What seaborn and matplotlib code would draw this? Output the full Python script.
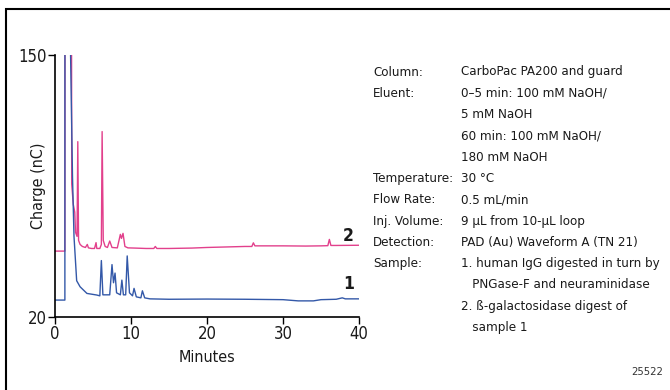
import pandas as pd
import matplotlib.pyplot as plt
import seaborn as sns
from matplotlib.patches import Rectangle

#########################
#         Data          #
#########################

# Trace 1: human IgG digested by PNGase-F and neuraminidase (blue)
time_1 = [0, 1.3, 1.32, 1.95, 2.05, 2.3, 2.5, 2.85, 3.3, 4.2, 5.5, 5.9, 6.1, 6.3, 7.2, 7.5,
          7.7, 7.9, 8.1, 8.6, 8.8, 9.0, 9.3, 9.5, 9.8, 10.2, 10.4, 10.7, 11.3, 11.5, 11.8,
          12.5, 15, 20, 25, 30, 32, 34, 35, 37, 37.8, 38.2, 40]
charge_1 = [28.4, 28.4, 400, 400, 150, 90, 60, 38, 35, 31.7, 30.9, 30.5, 48, 31, 31, 46,
            37, 41.8, 32, 31, 38.3, 31, 31, 50.3, 32, 30.5, 34.2, 30, 29.5, 33, 29.5,
            29, 28.8, 28.9, 28.8, 28.6, 28.0, 28.0, 28.6, 28.8, 29.5, 29, 29]

# Trace 2: beta-galactosidase digest of sample 1 (pink)
time_2 = [0, 1.3, 1.35, 2.1, 2.2, 2.4, 2.6, 2.7, 2.9, 3.0, 3.1, 3.3, 3.6, 4.0, 4.25, 4.4,
          4.8, 5.2, 5.4, 5.5, 5.9, 6.1, 6.2, 6.35, 6.6, 6.9, 7.2, 7.5, 8.2, 8.6, 8.75, 8.95,
          9.2, 9.6, 10.5, 12, 13.0, 13.2, 13.4, 15, 18, 20, 22, 25, 25.9, 26.1, 26.3, 27,
          30, 33, 35, 35.9, 36.1, 36.3, 37, 40]
charge_2 = [52.7, 52.7, 400, 400, 86, 76, 72, 62, 60, 107, 58, 56, 55, 54.5, 56, 54.3,
            54, 54, 56.9, 54, 54, 56, 112, 58, 55, 54.5, 57.7, 54.5, 54.3, 61, 59, 61.5,
            55, 54.3, 54.2, 54, 54, 55, 54, 54, 54.2, 54.5, 54.7, 55, 55, 56.8, 55.3, 55.3,
            55.3, 55.2, 55.3, 55.4, 58.5, 55.5, 55.5, 55.6]

x_ticks = [0, 10, 20, 30, 40]
y_ticks = [20, 150]

conditions = [
    ('Column:', 'CarboPac PA200 and guard'),
    ('Eluent:', '0\u20135 min: 100 mM NaOH/'),
    ('', '5 mM NaOH'),
    ('', '60 min: 100 mM NaOH/'),
    ('', '180 mM NaOH'),
    ('Temperature:', '30 \u00b0C'),
    ('Flow Rate:', '0.5 mL/min'),
    ('Inj. Volume:', '9 \u00b5L from 10-\u00b5L loop'),
    ('Detection:', 'PAD (Au) Waveform A (TN 21)'),
    ('Sample:', '1. human IgG digested in turn by'),
    ('', '   PNGase-F and neuraminidase'),
    ('', '2. \u00df-galactosidase digest of'),
    ('', '   sample 1'),
]

df = pd.concat([
    pd.DataFrame({'Minutes': time_1, 'Charge': charge_1, 'Trace': '1'}),
    pd.DataFrame({'Minutes': time_2, 'Charge': charge_2, 'Trace': '2'}),
])

##########################
#   Plotting the data    #
##########################
sns.set_style('ticks')
plt.rcParams['font.family'] = ['DejaVu Sans']
plt.rcParams['font.stretch'] = 'condensed'
plt.rcParams['text.color'] = '#1a1a1a'
plt.rcParams['axes.labelcolor'] = '#1a1a1a'
plt.rcParams['xtick.color'] = 'black'
plt.rcParams['ytick.color'] = 'black'
plt.rcParams['xtick.labelcolor'] = '#1a1a1a'
plt.rcParams['ytick.labelcolor'] = '#1a1a1a'

fig = plt.figure(figsize=(6.7, 3.9), dpi=100)
ax = fig.add_axes([55 / 670, 1 - 317 / 390, 304 / 670, 262 / 390])

palette = {'1': '#3358A8', '2': '#E2408C'}
sns.lineplot(data=df[df['Trace'] == '2'], x='Minutes', y='Charge', color=palette['2'],
             sort=False, estimator=None, lw=1.0, ax=ax)
sns.lineplot(data=df[df['Trace'] == '1'], x='Minutes', y='Charge', color=palette['1'],
             sort=False, estimator=None, lw=1.0, ax=ax)

ax.set_xlim(0, 40)
ax.set_ylim(20, 150)
ax.set_xticks(x_ticks)
ax.set_yticks(y_ticks)
ax.tick_params(labelsize=12, length=5, width=1, direction='out', pad=1)
ax.set_xlabel('Minutes', fontsize=11.5, labelpad=5)
ax.set_ylabel('Charge (nC)', fontsize=11.5)
ax.yaxis.set_label_coords(-0.028, 0.5)
sns.despine(ax=ax)
for s in ['left', 'bottom']:
    ax.spines[s].set_linewidth(1.2)
    ax.spines[s].set_color('black')

ax.text(38.6, 60, '2', fontsize=12.5, fontweight='bold', ha='center', va='center')
ax.text(38.6, 36.5, '1', fontsize=12.5, fontweight='bold', ha='center', va='center')

# condition table on the right
y0 = 1 - 72 / 390
dy = 21.3 / 390
for i, (lab, val) in enumerate(conditions):
    y = y0 - i * dy
    if lab:
        fig.text(373 / 670, y, lab, fontsize=9.5, va='center', ha='left')
    fig.text(461 / 670, y, val, fontsize=9.5, va='center', ha='left')

fig.text(663 / 670, 1 - 372 / 390, '25522', fontsize=8, va='center', ha='right', color='#333333')

# outer frame
fig.patches.append(Rectangle((6 / 670, -0.1), 1.2, 0.1 + 1 - 9 / 390, transform=fig.transFigure,
                             fill=False, edgecolor='black', lw=1.5))

plt.savefig('out.png', dpi=100)
